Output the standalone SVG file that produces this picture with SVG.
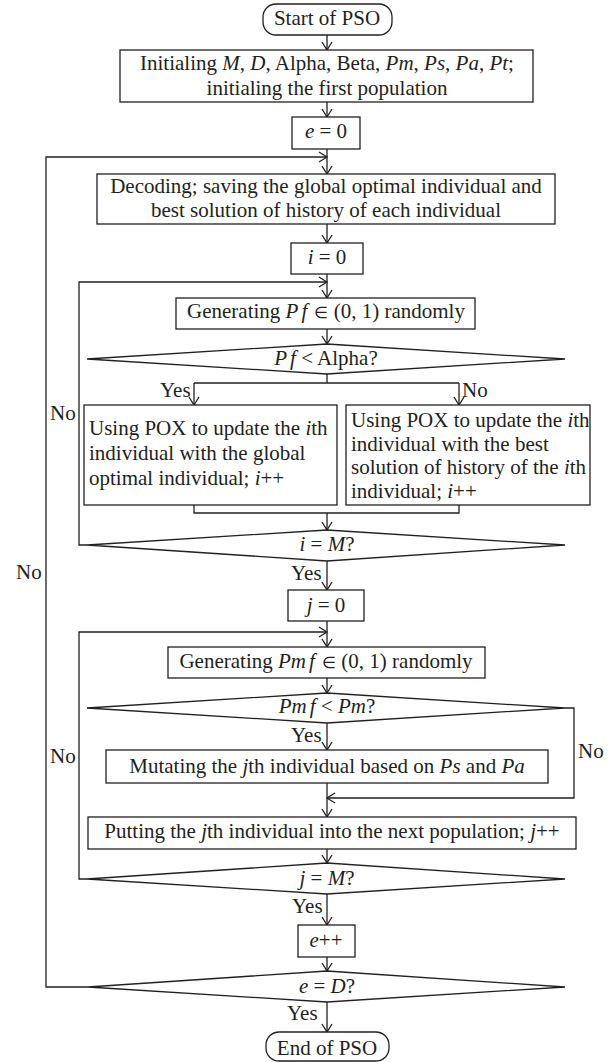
<svg xmlns="http://www.w3.org/2000/svg" width="613" height="1062" viewBox="0 0 613 1062">
<style>
.b{fill:#fff;stroke:#231f20;stroke-width:1.3}
.c{fill:none;stroke:#231f20;stroke-width:1.3}
text{font-family:"Liberation Serif","Times New Roman",serif;font-size:21px;fill:#231f20}
.m{text-anchor:middle}
.i{font-style:italic}
.s{font-size:16px}
</style>
<defs>
<marker id="a" markerUnits="userSpaceOnUse" markerWidth="12" markerHeight="12" refX="9" refY="6" orient="auto">
<path d="M1,1 L9,6 L1,11" fill="none" stroke="#231f20" stroke-width="1.3"/>
</marker>
</defs>
<rect width="613" height="1062" fill="#fff"/>
<g id="connectors">
<path class="c" d="M327,35 V50" marker-end="url(#a)"/>
<path class="c" d="M327,102 V117" marker-end="url(#a)"/>
<path class="c" d="M327,149 V174" marker-end="url(#a)"/>
<path class="c" d="M88,987 H46 V157 H327" marker-end="url(#a)"/>
<path class="c" d="M327,224 V243" marker-end="url(#a)"/>
<path class="c" d="M327,274 V298" marker-end="url(#a)"/>
<path class="c" d="M87,545 H79 V282 H327" marker-end="url(#a)"/>
<path class="c" d="M327,329 V344" marker-end="url(#a)"/>
<path class="c" d="M327,374 V383 M194,383 H459"/>
<path class="c" d="M194,383 V405" marker-end="url(#a)"/>
<path class="c" d="M459,383 V405" marker-end="url(#a)"/>
<path class="c" d="M194,505 V513 H459 V505"/>
<path class="c" d="M327,513 V530" marker-end="url(#a)"/>
<path class="c" d="M327,561 V590" marker-end="url(#a)"/>
<path class="c" d="M327,621 V647" marker-end="url(#a)"/>
<path class="c" d="M87,879 H79 V632 H327" marker-end="url(#a)"/>
<path class="c" d="M327,678 V693" marker-end="url(#a)"/>
<path class="c" d="M327,723 V750" marker-end="url(#a)"/>
<path class="c" d="M565,708 H574 V798 H327" marker-end="url(#a)"/>
<path class="c" d="M327,783 V817" marker-end="url(#a)"/>
<path class="c" d="M327,849 V863" marker-end="url(#a)"/>
<path class="c" d="M327,894 V925" marker-end="url(#a)"/>
<path class="c" d="M327,957 V971" marker-end="url(#a)"/>
<path class="c" d="M327,1002 V1032" marker-end="url(#a)"/>
<text x="160" y="397">Yes</text>
<text x="462" y="397">No</text>
<text x="50" y="420">No</text>
<text x="16" y="579">No</text>
<text x="291" y="580">Yes</text>
<text x="291" y="742">Yes</text>
<text x="50" y="763">No</text>
<text x="578" y="758">No</text>
<text x="292" y="913">Yes</text>
<text x="287" y="1020">Yes</text>
</g>
<g id="start">
<rect class="b" x="263" y="4" width="129" height="31" rx="13"/>
<text class="m" x="327" y="25">Start of PSO</text>
</g>
<g id="init">
<rect class="b" x="120" y="50" width="413" height="52"/>
<text class="m" x="327" y="70">Initialing <tspan class="i">M</tspan>, <tspan class="i">D</tspan>, Alpha, Beta, <tspan class="i">Pm</tspan>, <tspan class="i">Ps</tspan>, <tspan class="i">Pa</tspan>, <tspan class="i">Pt</tspan>;</text>
<text class="m" x="327" y="95">initialing the first population</text>
</g>
<g id="e0">
<rect class="b" x="292" y="117" width="68" height="32"/>
<text class="m" x="326" y="138"><tspan class="i">e</tspan> = 0</text>
</g>
<g id="decoding">
<rect class="b" x="97" y="174" width="458" height="50"/>
<text class="m" x="326" y="193">Decoding; saving the global optimal individual and</text>
<text class="m" x="326" y="217">best solution of history of each individual</text>
</g>
<g id="i0">
<rect class="b" x="291" y="243" width="72" height="31"/>
<text class="m" x="327" y="264"><tspan class="i">i</tspan> = 0</text>
</g>
<g id="genpf">
<rect class="b" x="176" y="298" width="299" height="31"/>
<text class="m" x="326" y="318">Generating <tspan class="i">P</tspan><tspan class="i" dx="3">f</tspan> <tspan class="s" dx="2">∈</tspan> (0, 1) randomly</text>
</g>
<g id="d1">
<polygon class="b" points="327,344 565,359 327,374 87,359"/>
<text class="m" x="326" y="365"><tspan class="i">P</tspan><tspan class="i" dx="3">f</tspan> &lt; Alpha?</text>
</g>
<g id="update-global">
<rect class="b" x="84" y="405" width="253" height="100"/>
<text x="89" y="435">Using POX to update the <tspan class="i">i</tspan>th</text>
<text x="89" y="460">individual with the global</text>
<text x="89" y="485">optimal individual; <tspan class="i">i</tspan>++</text>
</g>
<g id="update-best">
<rect class="b" x="346" y="405" width="244" height="100"/>
<text x="351" y="427">Using POX to update the <tspan class="i">i</tspan>th</text>
<text x="351" y="451">individual with the best</text>
<text x="351" y="474">solution of history of the <tspan class="i">i</tspan>th</text>
<text x="351" y="498">individual; <tspan class="i">i</tspan>++</text>
</g>
<g id="d2">
<polygon class="b" points="327,530 565,545 327,561 87,545"/>
<text class="m" x="327" y="551"><tspan class="i">i</tspan> = <tspan class="i">M</tspan>?</text>
</g>
<g id="j0">
<rect class="b" x="288" y="590" width="76" height="31"/>
<text class="m" x="326" y="612"><tspan class="i">j</tspan> = 0</text>
</g>
<g id="genpmf">
<rect class="b" x="168" y="647" width="317" height="31"/>
<text class="m" x="326" y="668">Generating <tspan class="i">Pm</tspan><tspan class="i" dx="3">f</tspan> <tspan class="s" dx="2">∈</tspan> (0, 1) randomly</text>
</g>
<g id="d3">
<polygon class="b" points="327,693 565,708 327,723 87,708"/>
<text class="m" x="327" y="713"><tspan class="i">Pm</tspan><tspan class="i" dx="3">f</tspan> &lt; <tspan class="i">Pm</tspan>?</text>
</g>
<g id="mutate">
<rect class="b" x="106" y="750" width="442" height="33"/>
<text class="m" x="327" y="773">Mutating the <tspan class="i">j</tspan>th individual based on <tspan class="i">Ps</tspan> and <tspan class="i">Pa</tspan></text>
</g>
<g id="putting">
<rect class="b" x="88" y="817" width="488" height="32"/>
<text class="m" x="332" y="838">Putting the <tspan class="i">j</tspan>th individual into the next population; <tspan class="i">j</tspan>++</text>
</g>
<g id="d4">
<polygon class="b" points="327,863 565,879 327,894 87,879"/>
<text class="m" x="327" y="885"><tspan class="i">j</tspan> = <tspan class="i">M</tspan>?</text>
</g>
<g id="eplus">
<rect class="b" x="298" y="925" width="57" height="32"/>
<text class="m" x="326" y="947"><tspan class="i">e</tspan>++</text>
</g>
<g id="d5">
<polygon class="b" points="327,971 565,987 327,1002 88,987"/>
<text class="m" x="327" y="993"><tspan class="i">e</tspan> = <tspan class="i">D</tspan>?</text>
</g>
<g id="end">
<rect class="b" x="266" y="1032" width="123" height="29" rx="13"/>
<text class="m" x="327" y="1055">End of PSO</text>
</g>
</svg>
